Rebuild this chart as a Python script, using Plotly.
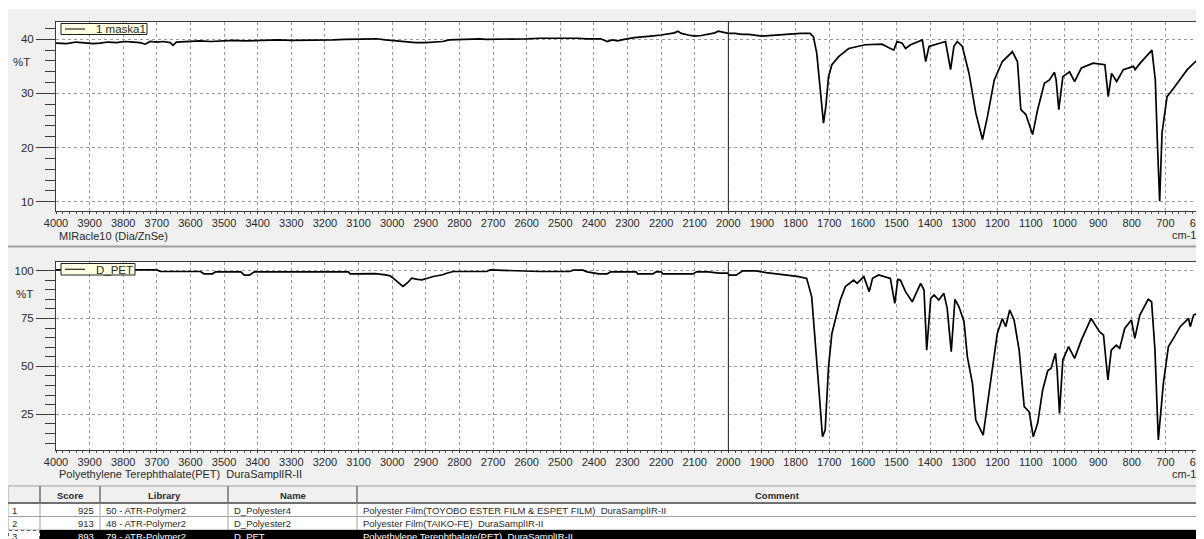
import plotly.graph_objects as go

# ---------------- data ----------------
maska_wn = [4000, 3968, 3940, 3918, 3890, 3869, 3845, 3820, 3795, 3770, 3750, 3735, 3720, 3700, 3681, 3660,
            3652, 3642, 3610, 3572, 3540, 3500, 3473, 3440, 3400, 3374, 3340, 3300, 3275, 3240, 3200, 3176,
            3140, 3100, 3076, 3047, 3020, 2990, 2960, 2930, 2900, 2870, 2850, 2830, 2800, 2760, 2740, 2720,
            2680, 2640, 2600, 2560, 2520, 2480, 2450, 2420, 2380, 2360, 2345, 2330, 2310, 2280, 2250, 2230,
            2200, 2180, 2160, 2150, 2140, 2120, 2100, 2080, 2060, 2040, 2030, 2015, 2000, 1980, 1960, 1940,
            1920, 1900, 1880, 1860, 1840, 1820, 1800, 1785, 1757, 1747, 1737, 1727, 1717, 1710, 1702, 1692,
            1672, 1642, 1593, 1543, 1508, 1498, 1483, 1473, 1458, 1423, 1413, 1403, 1374, 1354, 1339, 1329,
            1319, 1304, 1284, 1264, 1244, 1229, 1209, 1185, 1155, 1140, 1130, 1115, 1095, 1080, 1060, 1045,
            1030, 1025, 1017, 1005, 985, 970, 950, 915, 880, 870, 860, 845, 825, 795, 790, 775,
            740, 730, 723, 717, 710, 695, 675, 635, 605, 600]
maska_t = [39.3, 39.2, 39.5, 39.4, 39.2, 39.3, 39.5, 39.4, 39.6, 39.5, 39.4, 39.1, 39.6, 39.5, 39.6, 39.4,
           38.9, 39.5, 39.6, 39.7, 39.6, 39.8, 39.8, 39.7, 39.8, 39.8, 39.9, 39.8, 39.8, 39.9, 39.9, 39.9,
           40.0, 40.0, 40.0, 40.1, 39.9, 39.7, 39.6, 39.4, 39.4, 39.5, 39.6, 39.9, 40.0, 40.0, 40.1, 40.0,
           40.0, 40.1, 40.1, 40.2, 40.2, 40.3, 40.2, 40.1, 40.1, 39.6, 39.9, 39.7, 40.0, 40.3, 40.4, 40.6,
           40.8, 41.0, 41.2, 41.5, 41.1, 40.8, 40.6, 40.7, 40.9, 41.2, 41.5, 41.3, 41.1, 41.1, 40.9, 40.9,
           40.7, 40.6, 40.7, 40.8, 40.8, 40.9, 41.1, 41.1, 41.1, 40.5, 37.4, 31.3, 24.5, 27.6, 33.1, 35.3,
           36.8, 38.3, 39.0, 39.1, 38.0, 39.6, 39.3, 38.3, 39.0, 39.9, 35.9, 38.7, 39.3, 39.6, 34.4, 38.7,
           39.6, 38.7, 33.7, 26.4, 21.5, 25.8, 32.5, 35.9, 37.7, 35.9, 27.0, 26.1, 22.4, 27.0, 31.9, 32.5,
           33.9, 32.5, 27.0, 33.1, 34.0, 32.2, 34.7, 35.6, 35.3, 29.4, 33.7, 32.2, 34.4, 35.0, 34.4, 35.6,
           38.0, 32.5, 19.6, 10.1, 22.7, 29.4, 31.0, 34.4, 36.2, 35.6]

pet_wn = [4000, 3700, 3690, 3570, 3560, 3535, 3525, 3450, 3440, 3425, 3410, 3130, 3125, 3090, 3080, 3050,
          3020, 3006, 2990, 2980, 2968, 2955, 2942, 2925, 2912, 2895, 2878, 2850, 2838, 2818, 2719, 2709,
          2640, 2560, 2472, 2462, 2432, 2420, 2385, 2360, 2350, 2274, 2270, 2224, 2215, 2200, 2195, 2125,
          2105, 2095, 2060, 2027, 2002, 1997, 1977, 1957, 1917, 1888, 1850, 1820, 1791, 1767, 1752, 1742,
          1732, 1720, 1712, 1702, 1692, 1682, 1667, 1652, 1627, 1617, 1597, 1581, 1571, 1553, 1518, 1505,
          1496, 1488, 1473, 1453, 1428, 1418, 1410, 1398, 1388, 1374, 1359, 1349, 1337, 1326, 1314, 1299,
          1289, 1274, 1264, 1242, 1224, 1200, 1185, 1175, 1163, 1150, 1135, 1120, 1105, 1093, 1080, 1065,
          1050, 1040, 1027, 1022, 1015, 1005, 988, 970, 950, 921, 896, 884, 871, 861, 846, 836,
          821, 801, 791, 776, 751, 741, 731, 721, 706, 691, 676, 656, 631, 626, 616, 600]
pet_t = [100.3, 100.3, 99.6, 99.5, 98.3, 98.3, 99.3, 99.3, 97.6, 97.6, 99.3, 99.3, 98.3, 98.3, 98.6, 98.4,
         97.7, 97.2, 95.0, 93.5, 91.7, 93.5, 96.0, 95.4, 95.1, 96.0, 96.9, 97.8, 98.6, 99.5, 99.5, 100.3,
         99.8, 99.5, 99.5, 100.2, 100.2, 99.3, 98.3, 98.3, 99.3, 99.3, 98.3, 98.3, 99.3, 99.3, 98.3, 98.3,
         98.2, 99.3, 99.3, 98.6, 98.6, 97.6, 97.6, 99.8, 99.8, 98.9, 98.3, 97.5, 96.8, 95.9, 86.3, 65.5,
         41.1, 13.3, 16.8, 49.8, 67.2, 74.2, 84.6, 91.6, 95.0, 93.3, 96.8, 89.0, 95.9, 97.7, 95.9, 82.9,
         95.4, 95.0, 89.0, 83.7, 93.3, 89.8, 58.5, 85.5, 87.2, 84.6, 88.1, 80.3, 57.7, 85.0, 81.1, 73.3,
         55.0, 41.1, 22.0, 14.2, 37.7, 67.2, 75.0, 70.7, 79.4, 74.2, 58.5, 29.0, 26.3, 13.3, 20.3, 37.7,
         47.7, 49.0, 56.8, 48.1, 25.5, 53.3, 60.3, 54.2, 63.7, 75.0, 68.1, 66.3, 42.9, 58.5, 61.1, 59.4,
         69.8, 74.2, 64.6, 76.8, 85.0, 83.7, 58.5, 11.6, 41.1, 60.3, 64.6, 70.7, 75.0, 70.7, 76.8, 78.0]

x_ticks = list(range(4000, 599, -100))
top_y_ticks = [10, 20, 30, 40]
bot_y_ticks = [25, 50, 75, 100]
cursor_wn = 2000

top_legend = "1 maska1"
bot_legend = "D_PET"
top_sub = "MIRacle10 (Dia/ZnSe)"
bot_sub = "Polyethylene Terephthalate(PET)\u00a0 DuraSamplIR-II"
y_title = "%T"
x_unit = "cm-1"

tbl_headers = ["", "Score", "Library", "Name", "Comment"]
tbl_index = ["1", "2", "3"]
tbl_score = ["925", "913", "893"]
tbl_library = ["50 - ATR-Polymer2", "48 - ATR-Polymer2", "79 - ATR-Polymer2"]
tbl_name = ["D_Polyester4", "D_Polyester2", "D_PET"]
tbl_comment = ["Polyester Film(TOYOBO ESTER FILM & ESPET FILM)\u00a0 DuraSamplIR-II",
               "Polyester Film(TAIKO-FE)\u00a0 DuraSamplIR-II",
               "Polyethylene Terephthalate(PET)\u00a0 DuraSamplIR-II"]

# ---------------- layout helpers ----------------
# The page body has an 8px margin, so the figure starts at window pixel (8, 8).
OX, OY = 8, 8
W, H = 1196, 531
def PX(x):
    return (x - OX) / W
def PY(y):
    return 1 - (y - OY) / H

FONT = "Liberation Sans, Arial, sans-serif"
TXT = "#2a2a2a"
AX = "#3a3a3a"
BG = "#f0f0f0"

fig = go.Figure()
fig.add_trace(go.Scatter(x=maska_wn, y=maska_t, mode="lines", line=dict(color="black", width=1.7),
                         xaxis="x", yaxis="y", showlegend=False))
fig.add_trace(go.Scatter(x=pet_wn, y=pet_t, mode="lines", line=dict(color="black", width=1.7),
                         xaxis="x2", yaxis="y2", showlegend=False))

def xaxis_cfg(anchor):
    return dict(domain=[PX(56), PX(1199)], anchor=anchor, range=[4000, 600], tickvals=x_ticks,
                automargin=False, ticklabeloverflow="allow", ticks="outside", ticklen=2, tickcolor=AX,
                showline=True, linecolor=AX, mirror=True, showgrid=True, gridcolor="#9a9a9a",
                griddash="3px,3px", gridwidth=1, zeroline=False,
                tickfont=dict(family=FONT, size=11, color=TXT),
                minor=dict(dtick=20, tick0=0, ticks="outside", ticklen=2, tickcolor="#555", showgrid=False))

def yaxis_cfg(anchor, dom, rng, tv, mdt):
    return dict(domain=dom, anchor=anchor, range=rng, tickvals=tv, ticks="outside", ticklen=19,
                automargin=False, tickcolor=AX, showline=True, linecolor=AX, mirror=True, showgrid=True,
                gridcolor="#9a9a9a", griddash="3px,3px", gridwidth=1, zeroline=False,
                tickfont=dict(family=FONT, size=11.5, color=TXT),
                minor=dict(dtick=mdt, tick0=0, ticks="outside", ticklen=10, tickcolor=AX, showgrid=False))

shapes = []
annotations = []

# thin white strip at the very top (window gray starts at y=9)
shapes.append(dict(type="rect", xref="paper", yref="paper", x0=0, x1=1, y0=PY(9), y1=1,
                   fillcolor="white", line=dict(width=0), layer="below"))
# separator between panels
shapes.append(dict(type="line", xref="paper", yref="paper", x0=0, x1=1, y0=PY(246.5), y1=PY(246.5),
                   line=dict(color="#a0a0a0", width=2)))

# cursor line
for xr, yr in (("x", "y domain"), ("x2", "y2 domain")):
    shapes.append(dict(type="line", xref=xr, yref=yr, x0=cursor_wn, x1=cursor_wn, y0=0, y1=1,
                       line=dict(color="#202020", width=1)))

# legend boxes
def legend_box(x0, x1, y0, y1, text):
    shapes.append(dict(type="rect", xref="paper", yref="paper", x0=PX(x0), x1=PX(x1), y0=PY(y1), y1=PY(y0),
                       fillcolor="#ffffe1", line=dict(color="#202020", width=1)))
    ym = (y0 + y1) / 2
    shapes.append(dict(type="line", xref="paper", yref="paper", x0=PX(65), x1=PX(85), y0=PY(ym), y1=PY(ym),
                       line=dict(color="black", width=1)))
    annotations.append(dict(xref="paper", yref="paper", x=PX(94), y=PY(ym + 0.5), text=text, showarrow=False,
                            xanchor="left", yanchor="middle", font=dict(family=FONT, size=11.5, color=TXT)))

legend_box(61, 147, 23.5, 34.5, top_legend)
legend_box(61, 135, 263.5, 275, bot_legend)

def label(x, y, text, xanchor="left", size=11.5, color=TXT, bold=False):
    t = "<b>%s</b>" % text if bold else text
    annotations.append(dict(xref="paper", yref="paper", x=PX(x), y=PY(y), text=t, showarrow=False,
                            xanchor=xanchor, yanchor="middle", font=dict(family=FONT, size=size, color=color)))

label(22, 61.7, y_title, "center")
label(24, 294.3, y_title, "center")
label(57, 236, top_sub, size=11)
label(57, 473.5, bot_sub, size=11)
label(1198, 235, x_unit, "right", size=11)
label(1198, 474, x_unit, "right", size=11)

# ---------------- table ----------------
col_edges = [8, 40, 100, 228, 357, 1197]
hdr_top, hdr_bot = 486, 503
row_edges = [503, 516.5, 530, 544]

shapes.append(dict(type="rect", xref="paper", yref="paper", x0=PX(8), x1=PX(1197), y0=PY(hdr_bot), y1=PY(hdr_top),
                   fillcolor=BG, line=dict(color="#a0a0a0", width=1)))
for i in range(2):
    shapes.append(dict(type="rect", xref="paper", yref="paper", x0=PX(8), x1=PX(1197),
                       y0=PY(row_edges[i + 1]), y1=PY(row_edges[i]), fillcolor="white",
                       line=dict(color="#a0a0a0", width=1)))
shapes.append(dict(type="rect", xref="paper", yref="paper", x0=PX(40), x1=PX(1197),
                   y0=PY(row_edges[3]), y1=PY(row_edges[2]), fillcolor="black", line=dict(width=0)))
shapes.append(dict(type="rect", xref="paper", yref="paper", x0=PX(8.5), x1=PX(39.5),
                   y0=PY(row_edges[3]), y1=PY(row_edges[2] + 0.5), fillcolor="white",
                   line=dict(color="#606060", width=1, dash="dot")))
shapes.append(dict(type="line", xref="paper", yref="paper", x0=PX(8), x1=PX(1197), y0=PY(hdr_bot), y1=PY(hdr_bot),
                   line=dict(color="#707070", width=2)))
for cx in col_edges[1:]:
    shapes.append(dict(type="line", xref="paper", yref="paper", x0=PX(cx), x1=PX(cx), y0=PY(hdr_bot), y1=PY(hdr_top),
                       line=dict(color="#707070", width=1.5)))
    if cx != 1197:
        shapes.append(dict(type="line", xref="paper", yref="paper", x0=PX(cx), x1=PX(cx), y0=PY(530), y1=PY(hdr_bot),
                           line=dict(color="#a0a0a0", width=1)))
# scrollbar strip
shapes.append(dict(type="line", xref="paper", yref="paper", x0=PX(1199.5), x1=PX(1199.5), y0=0, y1=PY(hdr_top),
                   line=dict(color="#d0d0d0", width=1)))

hdr_centers = [24, 70, 164, 292.5, 777]
for c, h in zip(hdr_centers, tbl_headers):
    if h:
        label(c, 495, h, "center", size=9.5, bold=True)

row_mid = [510.3, 523.5, 536.5]
for i in range(3):
    col = TXT if i < 2 else "white"
    label(10, row_mid[i], tbl_index[i], "left", size=9.5, color=TXT)
    label(96, row_mid[i], tbl_score[i], "right", size=9.5, color=col)
    label(104, row_mid[i], tbl_library[i], "left", size=9.5, color=col)
    label(232, row_mid[i], tbl_name[i], "left", size=9.5, color=col)
    label(361, row_mid[i], tbl_comment[i], "left", size=9.5, color=col)

fig.update_layout(
    width=W, height=H, margin=dict(l=0, r=0, t=0, b=0, autoexpand=False),
    paper_bgcolor=BG, plot_bgcolor="white", showlegend=False,
    xaxis=xaxis_cfg("y"),
    yaxis=yaxis_cfg("x", [PY(210.7), PY(22)], [8.34, 43.2], top_y_ticks, 2),
    xaxis2=xaxis_cfg("y2"),
    yaxis2=yaxis_cfg("x2", [PY(450), PY(261.7)], [6.4, 104.6], bot_y_ticks, 5),
    shapes=shapes, annotations=annotations,
)

fig.write_html("out.html")
